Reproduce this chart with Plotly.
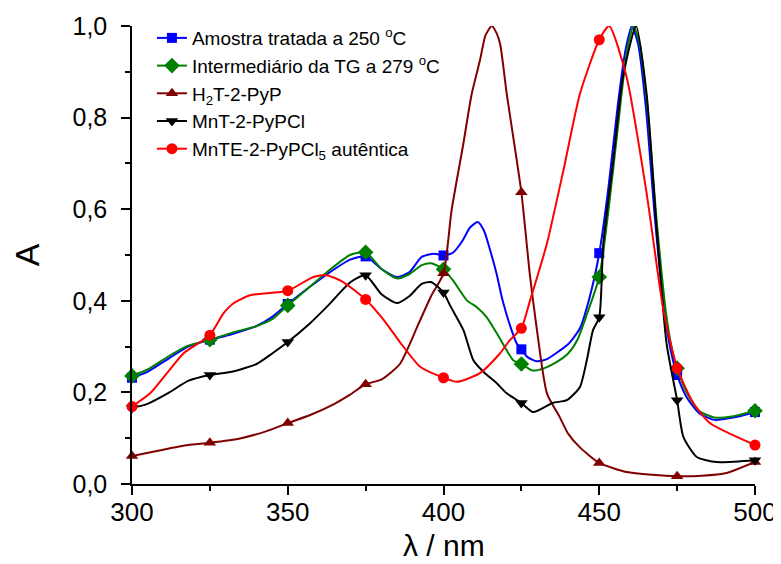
import plotly.graph_objects as go

# ---------------- data ----------------
marker_wl = [300, 325, 350, 375, 400, 425, 450, 475, 500]

blue_wl = [300, 305, 312, 318, 325, 332, 340, 345, 350, 357, 363, 370, 375, 380, 385, 389, 393, 397, 400,
           403, 406, 408.5, 411, 413, 415, 417, 419, 421.5, 423.5, 425, 427, 430, 433, 436, 440, 443.8, 447,
           450, 453, 456, 458.5, 460.5, 462.5, 465, 468, 471, 473, 475, 478, 482, 487, 493, 500]
blue_a = [0.232, 0.245, 0.275, 0.300, 0.315, 0.327, 0.345, 0.365, 0.393, 0.43, 0.46, 0.49, 0.497, 0.47, 0.452,
          0.462, 0.496, 0.503, 0.499, 0.505, 0.53, 0.56, 0.572, 0.553, 0.51, 0.46, 0.40, 0.343, 0.307, 0.294,
          0.277, 0.268, 0.272, 0.285, 0.305, 0.34, 0.41, 0.504, 0.65, 0.83, 0.95, 1.0, 0.96, 0.82, 0.57, 0.37,
          0.29, 0.238, 0.19, 0.155, 0.14, 0.145, 0.157]
blue_m = [0.232, 0.315, 0.393, 0.497, 0.499, 0.294, 0.504, 0.238, 0.157]

green_wl = [300, 305, 312, 318, 325, 332, 340, 345, 350, 357, 363, 370, 375, 380, 385, 389, 393, 396, 400,
            403, 407.5, 410.7, 413.9, 417.1, 420.3, 422.4, 425, 428.5, 432, 436, 440, 443, 446, 450, 453, 456,
            459, 461, 463, 465.5, 468.5, 471.5, 473.5, 475, 478, 482, 487, 493, 500]
green_a = [0.236, 0.25, 0.28, 0.302, 0.315, 0.33, 0.345, 0.36, 0.39, 0.43, 0.465, 0.50, 0.506, 0.47, 0.449,
           0.458, 0.478, 0.482, 0.469, 0.445, 0.401, 0.386, 0.364, 0.329, 0.292, 0.27, 0.262, 0.248, 0.252,
           0.265, 0.285, 0.315, 0.37, 0.452, 0.60, 0.78, 0.95, 1.0, 0.96, 0.82, 0.57, 0.37, 0.29, 0.253, 0.20,
           0.16, 0.145, 0.148, 0.16]
green_m = [0.236, 0.315, 0.39, 0.506, 0.469, 0.262, 0.452, 0.253, 0.16]

h2t_wl = [300, 310, 318, 325, 335, 343, 350, 357, 365, 370, 375, 380, 386, 392, 396, 400, 402.6, 406.4, 409,
          411.7, 413.5, 415.5, 417, 418.2, 420.3, 422.4, 425, 427.8, 430, 433.2, 437.4, 440, 443.8, 450, 458.8,
          467, 475, 483, 490.9, 500]
h2t_a = [0.061, 0.075, 0.085, 0.09, 0.10, 0.115, 0.133, 0.15, 0.175, 0.195, 0.218, 0.228, 0.262, 0.35, 0.41,
         0.46, 0.598, 0.744, 0.85, 0.925, 0.98, 1.0, 0.985, 0.96, 0.852, 0.757, 0.637, 0.452, 0.336, 0.198,
         0.145, 0.11, 0.08, 0.046, 0.026, 0.02, 0.017, 0.018, 0.024, 0.048]
h2t_m = [0.061, 0.09, 0.133, 0.218, 0.46, 0.637, 0.046, 0.017, 0.048]

mnt_wl = [300, 305, 312, 318, 325, 332, 340, 345, 350, 357, 363, 370, 375, 380, 385, 389, 393, 396, 400,
          402.1, 406.4, 409.6, 412.8, 417.1, 420.3, 425, 428.8, 435, 439.6, 443.8, 446, 448, 450, 451.3, 454.5,
          457.6, 461.8, 465.2, 468.4, 471.6, 475, 477, 481.3, 487.7, 500]
mnt_a = [0.166, 0.175, 0.20, 0.225, 0.238, 0.245, 0.262, 0.285, 0.31, 0.35, 0.39, 0.44, 0.456, 0.415, 0.395,
         0.41, 0.437, 0.441, 0.418, 0.39, 0.336, 0.27, 0.245, 0.22, 0.198, 0.177, 0.157, 0.177, 0.183, 0.212,
         0.27, 0.336, 0.364, 0.525, 0.707, 0.888, 1.0, 0.852, 0.561, 0.307, 0.183, 0.103, 0.059, 0.048, 0.052]
mnt_m = [0.166, 0.238, 0.31, 0.456, 0.418, 0.177, 0.364, 0.183, 0.052]

mnte_wl = [300, 305.8, 311.1, 316.5, 325, 329.3, 332.5, 337.9, 350, 358.2, 362.5, 367.8, 375, 380.6, 386,
           392.5, 400, 404.3, 411.7, 418.1, 421.3, 425, 427.8, 433.2, 438.5, 443.8, 450, 453.2, 458.8, 465.2,
           470.6, 475, 480.2, 485.5, 500]
mnte_a = [0.169, 0.198, 0.241, 0.285, 0.325, 0.372, 0.394, 0.412, 0.422, 0.452, 0.456, 0.441, 0.403, 0.36,
          0.31, 0.256, 0.232, 0.223, 0.242, 0.285, 0.314, 0.34, 0.401, 0.525, 0.685, 0.852, 0.97, 1.0, 0.888,
          0.635, 0.38, 0.253, 0.177, 0.133, 0.085]
mnte_m = [0.169, 0.325, 0.422, 0.403, 0.232, 0.34, 0.97, 0.253, 0.085]

names = ["Amostra tratada a 250 <sup>o</sup>C",
         "Intermediário da TG a 279 <sup>o</sup>C",
         "H<sub>2</sub>T-2-PyP",
         "MnT-2-PyPCl",
         "MnTE-2-PyPCl<sub>5</sub> autêntica"]

x_ticks = [300, 350, 400, 450, 500]
y_ticks = [0.0, 0.2, 0.4, 0.6, 0.8, 1.0]
x_title = "λ / nm"
y_title = "A"

# ---------------- styles ----------------
series = [
    (blue_wl, blue_a, blue_m, "#0000FF", "square", 10),
    (green_wl, green_a, green_m, "#008000", "diamond", 12),
    (h2t_wl, h2t_a, h2t_m, "#800000", "triangle-up", 11),
    (mnt_wl, mnt_a, mnt_m, "#000000", "triangle-down", 11),
    (mnte_wl, mnte_a, mnte_m, "#FF0000", "circle", 11),
]

fig = go.Figure()
for i, (wl, a, m, col, sym, ms) in enumerate(series):
    fig.add_trace(go.Scatter(x=wl, y=a, mode="lines", line=dict(color=col, width=2, shape="spline", smoothing=0.6),
                             showlegend=False, hoverinfo="skip"))
    fig.add_trace(go.Scatter(x=marker_wl, y=m, mode="markers",
                             marker=dict(color=col, symbol=sym, size=ms, line=dict(width=0)),
                             showlegend=False, cliponaxis=False))
for i, (wl, a, m, col, sym, ms) in enumerate(series):
    fig.add_trace(go.Scatter(x=[None], y=[None], mode="lines+markers", name=names[i],
                             line=dict(color=col, width=2),
                             marker=dict(color=col, symbol=sym, size=ms, line=dict(width=0)),
                             legendgroup=str(i)))

axis_common = dict(showline=True, linecolor="black", linewidth=1.5, ticks="outside", ticklen=9, tickwidth=1.5,
                   tickcolor="black", showgrid=False, zeroline=False, mirror=False, automargin=False)

# the page body adds an 8px margin, so the figure is sized 8px smaller
fig.update_layout(
    width=773, height=556,
    margin=dict(l=124, r=26, t=17, b=80),
    paper_bgcolor="white", plot_bgcolor="white",
    separators=",.",
    font=dict(family="Arial, Liberation Sans", color="black"),
    xaxis=dict(range=[300, 500], tickvals=x_ticks, ticktext=[str(v) for v in x_ticks],
               tickfont=dict(size=26, color="black"), ticklabelstandoff=-5,
               minor=dict(dtick=25, ticklen=5, tickwidth=1.5, tickcolor="black", ticks="outside"),
               **axis_common),
    yaxis=dict(range=[0, 1.0], tickvals=y_ticks, tickformat=".1f",
               tickfont=dict(size=25, color="black"), ticklabelstandoff=9,
               minor=dict(dtick=0.1, ticklen=5, tickwidth=1.5, tickcolor="black", ticks="outside"),
               title=dict(text=y_title, font=dict(size=34), standoff=32), **axis_common),
    legend=dict(x=0.032, y=1.013, xanchor="left", yanchor="top", bgcolor="rgba(0,0,0,0)",
                font=dict(size=19, family="Arial, Liberation Sans"), tracegroupgap=0,
                itemsizing="trace"),
    annotations=[dict(text=x_title, xref="paper", yref="paper", x=0.5, y=-0.135, xanchor="center",
                      yanchor="middle", showarrow=False, font=dict(size=30, color="black"))],
)

fig.write_html("out.html")
